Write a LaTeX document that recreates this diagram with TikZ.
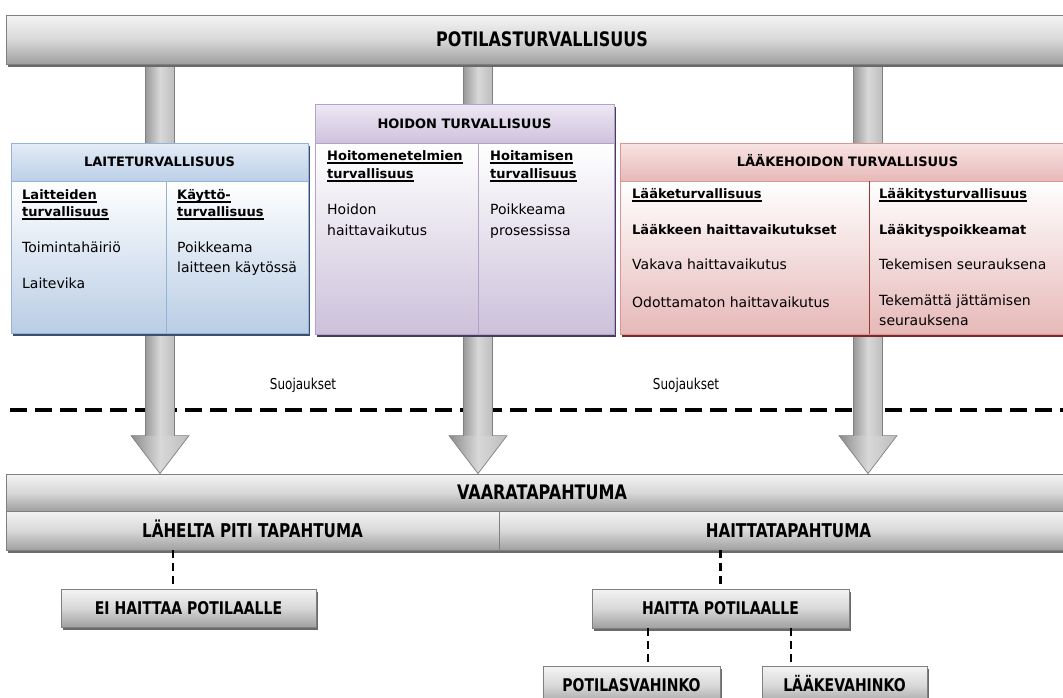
\documentclass[tikz,border=0pt]{standalone}
\usepackage{fontspec}
\setmainfont{DejaVu Sans}
\newfontfamily\barfont[FakeStretch=0.8]{DejaVu Sans}
\usetikzlibrary{calc,shadows}

\definecolor{barTop}{HTML}{F4F4F4}
\definecolor{barMid}{HTML}{D8D8D8}
\definecolor{barBot}{HTML}{A0A0A0}
\definecolor{barLine}{HTML}{808080}
\definecolor{barShadow}{HTML}{6A6A6A}
\definecolor{arrL}{HTML}{9A9A9A}
\definecolor{arrM}{HTML}{D8D8D8}
\definecolor{arrR}{HTML}{BDBDBD}
\definecolor{arrLine}{HTML}{808080}
\definecolor{blueLine}{HTML}{95B3D7}
\definecolor{blueHT}{HTML}{E4ECF6}
\definecolor{blueHB}{HTML}{BCD0E8}
\definecolor{blueBB}{HTML}{B9CDE5}
\definecolor{blueShadow}{HTML}{3A4F6E}
\definecolor{purLine}{HTML}{B3A2C7}
\definecolor{purHT}{HTML}{EEE8F4}
\definecolor{purHB}{HTML}{CDC2DC}
\definecolor{purBB}{HTML}{CCC1DA}
\definecolor{purShadow}{HTML}{4A3C5E}
\definecolor{redLine}{HTML}{D99694}
\definecolor{redDiv}{HTML}{953735}
\definecolor{redHT}{HTML}{F8E4E3}
\definecolor{redHB}{HTML}{E6B9B8}
\definecolor{redBB}{HTML}{E6B9B8}
\definecolor{redShadow}{HTML}{7A2A28}

% heading with a thick underline
\newcommand{\hdline}[1]{\setbox0\hbox{#1}\rlap{\raisebox{-2.8pt}{\rule{\wd0}{1.2pt}}}\box0}

\pgfdeclarelayer{back}
\pgfsetlayers{back,main}

\begin{document}
\begin{tikzpicture}[x=1pt,y=-1pt,
  bar/.style={draw=barLine, line width=0.8pt, top color=barTop, bottom color=barBot, middle color=barMid,
    drop shadow={fill=barShadow, opacity=1, shadow xshift=1.5pt, shadow yshift=-2.5pt},
    inner sep=0pt, text height=14.6pt, text depth=0pt,
    font=\barfont\bfseries\fontsize{20}{22}\selectfont},
  rowbar/.style={bar, text height=13.9pt, font=\barfont\bfseries\fontsize{19}{21}\selectfont},
  sbox/.style={bar, text height=12.8pt, font=\barfont\bfseries\fontsize{17.5}{20}\selectfont},
  frame/.style={fill=white, inner sep=0pt, draw=#1Line, line width=0.8pt,
    drop shadow={fill=#1Shadow, opacity=1, shadow xshift=1.5pt, shadow yshift=-2.5pt}},
  head/.style={draw=#1Line, line width=0.8pt, top color=#1HT, bottom color=#1HB, inner sep=0pt,
    text height=9.5pt, text depth=0pt,
    anchor=north, font=\bfseries\fontsize{13}{15}\selectfont},
  body/.style={draw=#1Line, line width=0.8pt, top color=white, bottom color=#1BB, inner sep=0pt, anchor=south},
  txt/.style={anchor=mid west, inner sep=0pt, font=\fontsize{14}{16}\selectfont},
  hd/.style={txt, font=\bfseries\fontsize{13}{16}\selectfont},
  conn/.style={line width=2.6pt, dash pattern=on 8pt off 5pt},
  barrier/.style={line width=3.3pt, dash pattern=on 17pt off 8pt},
  shaft/.style={left color=arrL, right color=arrR, middle color=arrM},
  tip/.style={left color=arrL!90!black, right color=arrR, middle color=arrM},
  arrline/.style={draw=arrLine, line width=0.7pt, line join=miter}
]
\useasboundingbox (0,0) rectangle (1063,697);

% ---------- colour boxes ----------
\node[frame=blue, minimum width=297pt, minimum height=190pt] (laite) at (159.5,238) {};
\node[head=blue, minimum width=297pt, minimum height=38pt] (laiteH) at (laite.north) {LAITETURVALLISUUS};
\node[body=blue, minimum width=297pt, minimum height=152pt] (laiteB) at (laite.south) {};
\draw[blueLine, line width=0.8pt] (166,181) -- (166,333);

\node[frame=pur, minimum width=299pt, minimum height=230pt] (hoito) at (464.5,219) {};
\node[head=pur, minimum width=299pt, minimum height=39pt] (hoitoH) at (hoito.north) {HOIDON TURVALLISUUS};
\node[body=pur, minimum width=299pt, minimum height=191pt] (hoitoB) at (hoito.south) {};
\draw[purLine, line width=0.8pt] (478,143) -- (478,334);

\node[frame=red, minimum width=455pt, minimum height=191pt] (laake) at (847.5,238.5) {};
\node[head=red, minimum width=455pt, minimum height=38pt] (laakeH) at (laake.north) {LÄÄKEHOIDON TURVALLISUUS};
\node[body=red, minimum width=455pt, minimum height=153pt] (laakeB) at (laake.south) {};
\draw[redDiv, line width=0.9pt] (869,181) -- (869,334);

% texts of the device box
\node[hd] (t1) at (22,197) {\hdline{Laitteiden}};
\node[hd] (t2) at (22,214) {\hdline{turvallisuus}};
\node[txt] (t3) at (22,250) {Toimintahäiriö};
\node[txt] (t4) at (22,286) {Laitevika};
\node[hd] (t5) at (177,197) {\hdline{Käyttö-}};
\node[hd] (t6) at (177,214) {\hdline{turvallisuus}};
\node[txt] (t7) at (177,250) {Poikkeama};
\node[txt] (t8) at (177,270) {laitteen käytössä};

% texts of the care box
\node[hd] (u1) at (327,158) {\hdline{Hoitomenetelmien}};
\node[hd] (u2) at (327,176) {\hdline{turvallisuus}};
\node[txt] (u3) at (327,212) {Hoidon};
\node[txt] (u4) at (327,233) {haittavaikutus};
\node[hd] (u5) at (490,158) {\hdline{Hoitamisen}};
\node[hd] (u6) at (490,176) {\hdline{turvallisuus}};
\node[txt] (u7) at (490,212) {Poikkeama};
\node[txt] (u8) at (490,233) {prosessissa};

% texts of the medication box
\node[hd] (v1) at (632,196) {\hdline{Lääketurvallisuus}};
\node[hd] (v2) at (632,232) {Lääkkeen haittavaikutukset};
\node[txt] (v3) at (632,267) {Vakava haittavaikutus};
\node[txt] (v4) at (632,305) {Odottamaton haittavaikutus};
\node[hd] (v5) at (879,196) {\hdline{Lääkitysturvallisuus}};
\node[hd] (v6) at (879,232) {Lääkityspoikkeamat};
\node[txt] (v7) at (879,267) {Tekemisen seurauksena};
\node[txt] (v8) at (879,303) {Tekemättä jättämisen};
\node[txt] (v9) at (879,323) {seurauksena};

% ---------- grey bars ----------
\node[bar, minimum width=1072pt, minimum height=49pt] (top) at (542,39.5) {POTILASTURVALLISUUS};
\node[bar, minimum width=1072pt, minimum height=37pt] (vaara) at (542,492.5) {VAARATAPAHTUMA};
\node[rowbar, minimum width=493pt, minimum height=39pt] (lahelta) at (252.5,530.5) {LÄHELTA PITI TAPAHTUMA};
\node[rowbar, minimum width=579pt, minimum height=39pt] (haittat) at (788.5,530.5) {HAITTATAPAHTUMA};

\node[sbox, minimum width=255pt, minimum height=38pt] (ei) at (188.5,608) {EI HAITTAA POTILAALLE};
\node[sbox, minimum width=257pt, minimum height=39pt] (haittap) at (720.5,608.5) {HAITTA POTILAALLE};
\node[sbox, minimum width=177pt, minimum height=39pt] (potv) at (631.5,685.5) {POTILASVAHINKO};
\node[sbox, minimum width=165pt, minimum height=39pt] (laakev) at (844.5,685.5) {LÄÄKEVAHINKO};

% dashed links
\coordinate (k1) at (173,0);
\coordinate (k3) at (648,0);
\coordinate (k4) at (791,0);
\draw[conn] (lahelta.south -| k1) -- (ei.north -| k1);
\draw[conn] (haittat.south -| haittap.north) -- (haittap.north);
\draw[conn] (haittap.south -| k3) -- (potv.north -| k3);
\draw[conn] (haittap.south -| k4) -- (laakev.north -| k4);

% ---------- barrier line and block arrows (behind) ----------
\coordinate (ca) at (160,0);
\coordinate (cb) at (478,0);
\coordinate (cc) at (868,0);
\coordinate (dl) at (10,410);
\coordinate (dr) at (1063,410);
\begin{pgfonlayer}{back}
\draw[barrier] (dl) -- (dr);
\node[font=\barfont\fontsize{15}{17}\selectfont, inner sep=0pt] (s1) at (303,385) {Suojaukset};
\node[font=\barfont\fontsize{15}{17}\selectfont, inner sep=0pt] (s2) at (686,385) {Suojaukset};
\foreach \c in {ca,cb,cc} {
  \coordinate (\c top) at (top.south -| \c);
  \coordinate (\c end) at (vaara.north -| \c);
  \shade[shaft] ($(\c top)+(-14.5,0)$) rectangle ($(\c end)+(14.5,-38)$);
  \shade[tip] ($(\c end)+(-29,-38)$) -- (\c end) -- ($(\c end)+(29,-38)$) -- cycle;
  \draw[arrline] ($(\c top)+(-14.5,0)$) -- ($(\c end)+(-14.5,-38)$) -- ($(\c end)+(-29,-38)$)
     -- (\c end) -- ($(\c end)+(29,-38)$) -- ($(\c end)+(14.5,-38)$) -- ($(\c top)+(14.5,0)$);
}
\end{pgfonlayer}
\end{tikzpicture}
\end{document}
